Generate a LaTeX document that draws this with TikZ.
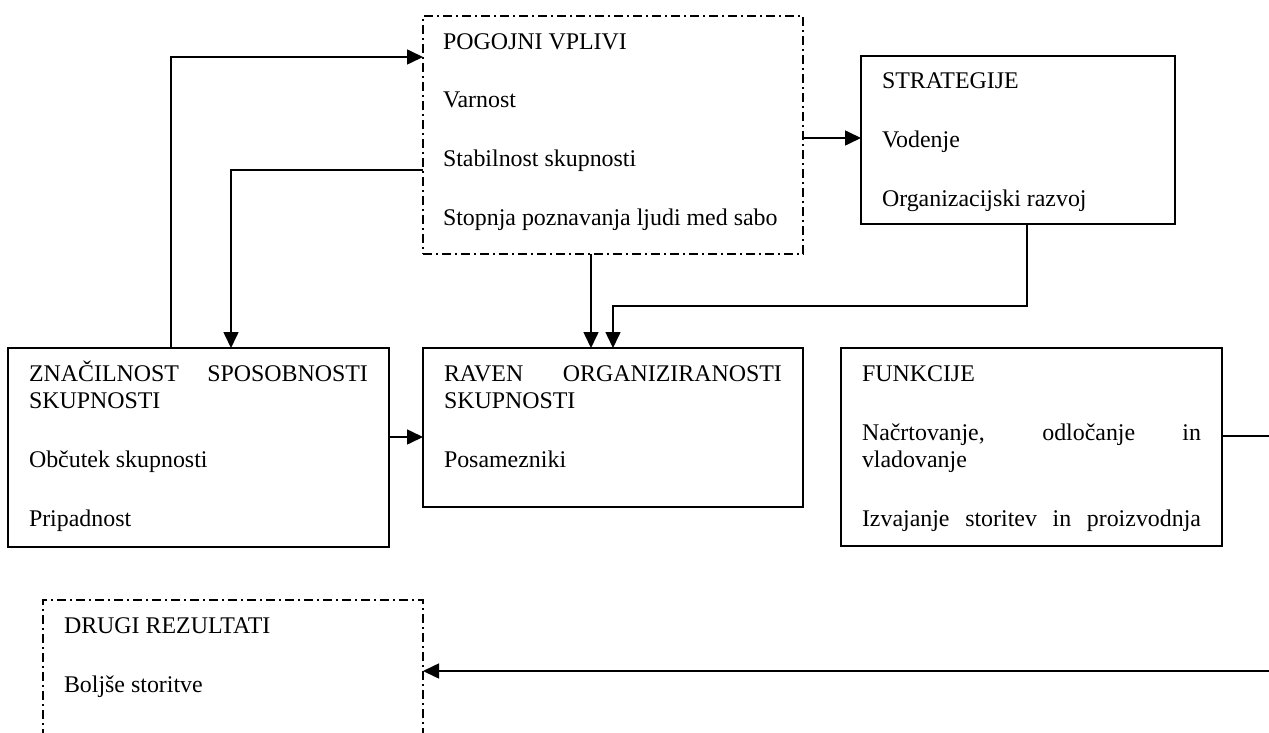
\documentclass[tikz,border=0pt]{standalone}
\usepackage{fontspec}
\setmainfont{Liberation Serif}
\usetikzlibrary{arrows.meta,calc}
\newcommand{\boxtext}[3]{\parbox[c][#2][t]{#1}{\raggedright\fontsize{23.9}{27}\selectfont\rule{0pt}{33pt}#3}}
\tikzset{
  solidbox/.style={draw, line width=1.6pt, anchor=north west, inner xsep=21pt, inner ysep=0pt, outer sep=0pt},
  dashbox/.style={solidbox, dash pattern=on 9pt off 4pt on 2pt off 4pt},
  conn/.style={line width=1.6pt},
  arr/.style={conn, -{Triangle[length=16pt,width=15pt]}}
}
\begin{document}
\begin{tikzpicture}[x=1pt,y=-1pt]
\useasboundingbox (0,0) rectangle (1269,733);
\node[dashbox, inner xsep=20pt] (pog) at (423,16) {\boxtext{340pt}{238pt}{POGOJNI VPLIVI\\[32pt]Varnost\\[32pt]Stabilnost skupnosti\\[32pt]Stopnja poznavanja ljudi med sabo}};
\node[solidbox] (strat) at (861,56) {\boxtext{272pt}{168pt}{STRATEGIJE\\[32pt]Vodenje\\[32pt]Organizacijski razvoj}};
\node[solidbox] (znac) at (8,348) {\boxtext{339pt}{199pt}{\makebox[339pt][s]{ZNAČILNOST SPOSOBNOSTI}\\SKUPNOSTI\\[32pt]Občutek skupnosti\\[32pt]Pripadnost}};
\node[solidbox] (raven) at (423,348) {\boxtext{338pt}{159pt}{\makebox[338pt][s]{RAVEN ORGANIZIRANOSTI}\\SKUPNOSTI\\[32pt]Posamezniki}};
\node[solidbox] (funk) at (841,348) {\boxtext{339pt}{198pt}{FUNKCIJE\\[32pt]\makebox[339pt][s]{Načrtovanje, odločanje in}\\vladovanje\\[32pt]\makebox[339pt][s]{Izvajanje storitev in proizvodnja}}};
\node[dashbox] (drugi) at (43,600) {\boxtext{338pt}{175pt}{DRUGI REZULTATI\\[32pt]Boljše storitve}};
% connectors
\draw[arr] ([xshift=163pt]znac.north west) |- ([yshift=-41pt]pog.north west);
\draw[arr] ([yshift=-154pt]pog.north west) -| ([xshift=223pt]znac.north west);
\draw[arr] ([yshift=-122pt]pog.north east) -- ([yshift=-122pt]pog.north east -| strat.west);
\draw[arr] ([xshift=168pt]pog.south west) -- ([xshift=168pt]raven.north west);
\draw[arr] ([xshift=166pt]strat.south west) |- ([xshift=190pt,yshift=42pt]raven.north west) -- ([xshift=190pt]raven.north west);
\draw[arr] ([yshift=-89pt]znac.north east) -- ([yshift=-89pt]znac.north east -| raven.west);
\coordinate (turn) at (1290,436);
\draw[arr] ([yshift=-88pt]funk.north east) -- (turn) |- ([yshift=-71pt]drugi.north east);
\end{tikzpicture}
\end{document}
